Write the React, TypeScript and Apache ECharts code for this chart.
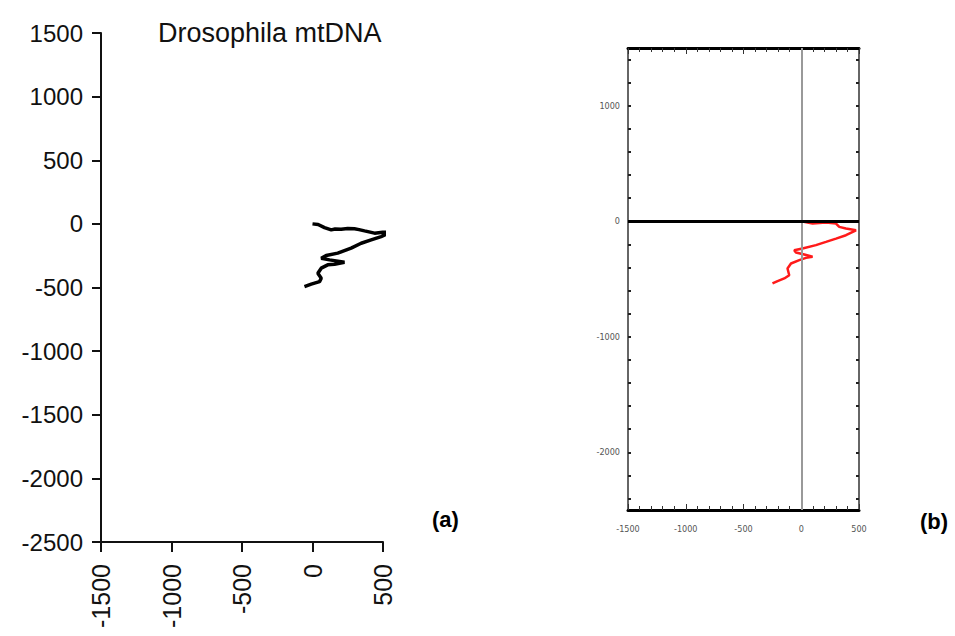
import React, { useEffect, useRef } from "react";
import * as echarts from "echarts";

// Panel (a): Drosophila mtDNA walk (black)
const aX = [0, 40, 85, 133, 160, 203, 250, 298, 330, 369, 440, 498, 558, 487, 416, 345, 274, 179, 97, 62, 121, 227, 156, 108, 62, 38, 62, 50, -9, -57];
const aY = [0, -5, -29, -47, -40, -42, -36, -39, -45, -55, -73, -65, -65, -100, -126, -152, -191, -230, -249, -270, -283, -301, -317, -322, -348, -388, -427, -454, -474, -493];

// Panel (b): walk (red)
const bX = [0, 98, 214, 301, 329, 387, 474, 387, 301, 214, 127, 11, -61, -46, 26, 98, 41, -17, -89, -119, -104, -147, -205, -249];
const bY = [0, -20, -11, -20, -49, -63, -78, -121, -150, -179, -207, -236, -251, -270, -288, -308, -317, -337, -366, -409, -467, -495, -518, -538];

// Axis ranges / ticks
const xRange = [-1500, 500];
const yRange = [-2500, 1500];
const bYTicks = [-2400, -2200, -2000, -1800, -1600, -1400, -1200, -1000, -800, -600, -400, -200, 0, 200, 400, 600, 800, 1000, 1200, 1400];
const bYLabels = [-2000, -1000, 0, 1000];

const titleText = "Drosophila mtDNA";
const panelLabels = ["(a)", "(b)"];

const FONT = "'Liberation Sans', Arial, Helvetica, sans-serif";
const NARROW = "'Liberation Sans Narrow', 'DejaVu Sans Condensed', 'Liberation Sans', sans-serif";
const plain = (v: number) => String(v);

export default function App() {
  const ref = useRef<HTMLDivElement>(null);
  useEffect(() => {
    if (!ref.current) return;
    const chart = echarts.init(ref.current, null, { renderer: "svg" });
    const bAxisX = (pos: "top" | "bottom", labels: boolean) => ({
      gridIndex: 1,
      type: "value",
      position: pos,
      min: xRange[0],
      max: xRange[1],
      interval: 500,
      axisLine: { show: true, onZero: false, lineStyle: { color: "#000", width: 3 } },
      axisTick: { show: true, inside: true, length: 6, lineStyle: { color: "#333", width: 1 } },
      minorTick: { show: true, splitNumber: 5, length: 4, lineStyle: { color: "#333", width: 1 } },
      axisLabel: { show: labels, fontSize: 9, color: "#555", margin: 14, fontFamily: NARROW, formatter: plain },
      splitLine: { show: false },
      minorSplitLine: { show: false },
    });
    const bAxisY = (pos: "left" | "right", labels: boolean) => ({
      gridIndex: 1,
      type: "value",
      position: pos,
      min: yRange[0],
      max: yRange[1],
      interval: 500,
      axisLine: { show: true, onZero: false, lineStyle: { color: "#666", width: 2 } },
      axisTick: { show: true, inside: true, length: 3, customValues: bYTicks, lineStyle: { color: "#222", width: 2 } },
      axisLabel: { show: labels, customValues: bYLabels, fontSize: 9, color: "#555", margin: 8, fontFamily: NARROW, formatter: plain },
      splitLine: { show: false },
    });
    const option: any = {
      animation: false,
      backgroundColor: "#fff",
      title: {
        text: titleText,
        left: 158,
        top: 19,
        padding: 0,
        textStyle: { fontFamily: FONT, fontSize: 27, fontWeight: "normal", color: "#111" },
      },
      grid: [
        { left: 101, top: 33, width: 282, height: 509 },
        { left: 628, top: 48, width: 231, height: 462 },
      ],
      xAxis: [
        {
          gridIndex: 0,
          type: "value",
          min: xRange[0],
          max: xRange[1],
          interval: 500,
          axisLine: { show: true, onZero: false, lineStyle: { color: "#111", width: 2 } },
          axisTick: { show: true, length: 10, lineStyle: { color: "#111", width: 2 } },
          axisLabel: { rotate: 90, fontSize: 25, margin: 22, color: "#111", fontFamily: FONT, formatter: plain },
          splitLine: { show: false },
        },
        bAxisX("bottom", true),
        bAxisX("top", false),
      ],
      yAxis: [
        {
          gridIndex: 0,
          type: "value",
          min: yRange[0],
          max: yRange[1],
          interval: 500,
          axisLine: { show: true, onZero: false, lineStyle: { color: "#111", width: 2 } },
          axisTick: { show: true, length: 9, lineStyle: { color: "#111", width: 2 } },
          axisLabel: { fontSize: 24, margin: 18, color: "#111", fontFamily: FONT, formatter: plain },
          splitLine: { show: false },
        },
        bAxisY("left", true),
        bAxisY("right", false),
      ],
      series: [
        {
          type: "line",
          xAxisIndex: 0,
          yAxisIndex: 0,
          data: aX.map((x, i) => [x, aY[i]]),
          showSymbol: false,
          clip: false,
          lineStyle: { color: "#000", width: 3.5 },
        },
        {
          type: "line",
          xAxisIndex: 1,
          yAxisIndex: 1,
          data: bX.map((x, i) => [x, bY[i]]),
          showSymbol: false,
          clip: false,
          lineStyle: { color: "#ff1a1a", width: 2.5 },
          markLine: {
            silent: true,
            symbol: "none",
            label: { show: false },
            data: [
              { xAxis: 0, lineStyle: { color: "#999", width: 2, type: "solid" } },
              { yAxis: 0, lineStyle: { color: "#000", width: 3, type: "solid" } },
            ],
          },
        },
      ],
      graphic: [
        {
          type: "text",
          left: 432,
          top: 508,
          style: { text: panelLabels[0], fontSize: 22, fontWeight: "bold", fontFamily: FONT, fill: "#000" },
        },
        {
          type: "text",
          left: 920,
          top: 510,
          style: { text: panelLabels[1], fontSize: 22, fontWeight: "bold", fontFamily: FONT, fill: "#000" },
        },
      ],
    };
    chart.setOption(option);
    return () => chart.dispose();
  }, []);
  return (
    <div
      ref={ref}
      style={{ position: "fixed", left: 0, top: 0, width: 955, height: 636, background: "#fff" }}
    />
  );
}
